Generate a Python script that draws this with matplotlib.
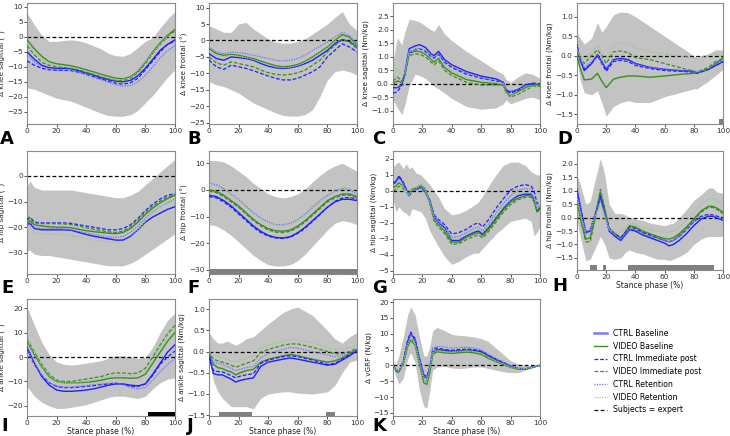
import matplotlib
matplotlib.use('Agg')
import matplotlib.pyplot as plt

# ---- data ----
# phase grid shared by several panels
grid5 = [0, 5, 10, 15, 20, 25, 30, 35, 40, 45, 50, 55, 60, 65, 70, 75, 80, 85, 90, 95, 100]

# A: knee sagittal angle
a_hi = [8, 4, 0.5, -1.5, -1.5, -1.2, -1.0, -1.3, -2, -3, -4, -5.5, -6.3, -6.5, -5.5, -3.5, -1.5, -0.3, 3, 6, 8.5]
a_lo = [-17, -17.5, -18.5, -19.5, -20.5, -21, -21.5, -22.5, -23.5, -24.5, -25.5, -26.3, -26.5, -26.5, -26, -24.5, -22, -19.5, -16.5, -13.5, -11]
a_ctrl_base = [-5, -7.5, -9.5, -10.3, -10.5, -10.5, -10.7, -11.3, -12, -12.8, -13.6, -14.3, -14.8, -15, -14.5, -13, -10.5, -7.5, -4.5, -2.5, -1]
a_video_base = [-1, -4, -6.5, -8.3, -9, -9.3, -9.7, -10.3, -11, -11.7, -12.5, -13.2, -13.8, -14, -13.3, -11.5, -8.5, -5, -2, 0.5, 2.5]
a_ctrl_imm = [-8, -9.5, -10.5, -11, -11.2, -11.2, -11.3, -11.8, -12.5, -13.3, -14, -14.8, -15.5, -15.8, -15.3, -13.8, -11, -8, -5, -2.5, -1.5]
a_video_imm = [-3, -6, -8.5, -9.5, -10, -10.2, -10.5, -11, -11.8, -12.5, -13.3, -14, -14.5, -14.5, -13.8, -12, -9, -5.5, -2.5, 0, 2]
a_ctrl_ret = [-6, -8.5, -10, -10.8, -11, -11, -11.2, -11.8, -12.6, -13.5, -14.3, -15.2, -16, -16.5, -16.2, -15, -12.8, -10, -7, -4.5, -3]
a_video_ret = [-2, -5, -7.5, -8.8, -9.5, -9.8, -10.2, -10.7, -11.4, -12.1, -12.9, -13.6, -14.2, -14.3, -13.6, -11.8, -8.8, -5.3, -2.3, 0.2, 1.5]

# B: knee frontal angle
b_hi = [4.5, 3.5, 2.5, 2.5, 5, 5.5, 3.5, 2, 0.5, -0.5, -0.8, -0.8, -0.3, 0.5, 2, 3.5, 5, 7, 8.8, 5, 3]
b_lo = [-12.5, -13.5, -14, -15, -16, -17.5, -19, -20, -21, -22, -22.8, -23, -23, -22.5, -21, -17, -12, -9.5, -9, -9.5, -10.5]
b_ctrl_base = [-4, -5.5, -6, -5, -5.2, -5.5, -6, -7, -7.8, -8.3, -8.5, -8.3, -7.8, -7, -6, -4.5, -3, -1, 0.3, -0.3, -2]
b_video_base = [-2.5, -4, -4.5, -4.2, -4.5, -5, -5.5, -6.3, -7, -7.7, -8, -7.8, -7.3, -6.3, -5, -3.5, -2, 0, 1.8, 1, -1.5]
b_ctrl_imm = [-6, -8, -8.8, -7.5, -8, -8.5, -9.2, -10, -10.8, -11.5, -12, -12, -11.5, -10.5, -9.5, -8, -5, -3, -1, -2, -3.5]
b_video_imm = [-5, -6.8, -7.5, -6.5, -7, -7.5, -8, -9, -9.8, -10.3, -10.5, -10.3, -9.8, -9, -7.5, -6, -3.5, -1.5, 0.2, -0.5, -2.5]
b_ctrl_ret = [-2, -3.5, -4, -3.5, -3.7, -4, -4.5, -5, -5.5, -6, -6.2, -6, -5.5, -4.5, -3, -1.8, -0.5, 1, 2.5, 1.5, -1]
b_video_ret = [-3, -4.5, -5, -4.5, -4.8, -5.2, -5.8, -6.6, -7.3, -8, -8.3, -8.1, -7.6, -6.6, -5.3, -3.8, -2.3, -0.3, 1.2, 0.5, -2]

# C: knee sagittal moment
c_x = [0, 3, 6, 8, 11, 15, 18, 22, 26, 28, 31, 35, 40, 50, 60, 70, 75, 77, 80, 85, 90, 95, 100]
c_hi = [0.85, 1.7, 1.45, 1.9, 2.4, 2.35, 2.3, 2.15, 2.0, 1.95, 2.2, 1.85, 1.6, 1.2, 0.85, 0.5, 0.35, 0.15, 0.05, 0.25, 0.4, 0.35, 0.2]
c_lo = [-0.6, -0.9, -1.15, -0.8, -0.1, 0.35, 0.3, 0.2, 0.0, -0.1, -0.2, -0.35, -0.55, -0.85, -0.95, -0.9, -0.75, -0.6, -0.75, -0.65, -0.55, -0.5, -0.6]
c_ctrl_base = [-0.15, -0.15, -0.05, 0.4, 1.3, 1.4, 1.45, 1.35, 1.1, 1.05, 1.2, 0.9, 0.7, 0.45, 0.28, 0.18, 0.05, -0.25, -0.3, -0.22, -0.05, 0.0, -0.05]
c_video_base = [0.0, 0.1, 0.05, 0.3, 1.15, 1.2, 1.2, 1.1, 0.9, 0.8, 0.95, 0.6, 0.4, 0.15, 0.05, 0.0, -0.05, -0.3, -0.45, -0.3, -0.15, -0.05, -0.05]
c_ctrl_imm = [-0.35, -0.3, -0.05, 0.35, 1.15, 1.25, 1.3, 1.2, 1.0, 0.95, 1.1, 0.8, 0.6, 0.35, 0.2, 0.1, 0.05, -0.25, -0.35, -0.25, -0.05, 0.02, 0.0]
c_video_imm = [0.1, 0.25, 0.1, 0.3, 1.05, 1.1, 1.1, 1.0, 0.8, 0.7, 0.85, 0.5, 0.3, 0.05, -0.05, -0.05, -0.05, -0.35, -0.5, -0.4, -0.25, -0.1, -0.1]
c_ctrl_ret = [-0.2, -0.15, 0.0, 0.35, 1.2, 1.3, 1.32, 1.25, 1.05, 0.98, 1.1, 0.85, 0.65, 0.4, 0.22, 0.12, 0.05, -0.2, -0.3, -0.2, -0.08, -0.05, -0.05]
c_video_ret = [0.4, 0.55, 0.3, 0.4, 1.2, 1.25, 1.25, 1.15, 0.95, 0.85, 1.0, 0.7, 0.5, 0.25, 0.1, 0.05, 0.0, -0.35, -0.45, -0.35, -0.2, -0.1, -0.2]

# D: knee frontal moment
d_x = [0, 2, 5, 10, 14, 17, 20, 25, 30, 35, 40, 50, 60, 70, 80, 82, 90, 95, 100]
d_hi = [0.6, 0.45, 0.3, 0.45, 0.85, 0.6, 0.75, 1.05, 1.12, 1.1, 1.0, 0.75, 0.5, 0.25, 0.0, -0.05, 0.05, 0.15, 0.15]
d_lo = [0.0, -0.6, -0.95, -1.0, -0.9, -1.2, -1.55, -1.3, -1.2, -1.15, -1.2, -1.2, -1.05, -0.95, -0.85, -0.85, -0.65, -0.5, -0.35]
d_ctrl_base = [0.28, -0.1, -0.38, -0.2, 0.03, -0.15, -0.35, -0.1, -0.07, -0.1, -0.2, -0.3, -0.35, -0.38, -0.4, -0.45, -0.35, -0.25, -0.15]
d_video_base = [0.0, -0.3, -0.62, -0.6, -0.45, -0.65, -0.82, -0.6, -0.55, -0.52, -0.52, -0.55, -0.52, -0.48, -0.45, -0.45, -0.35, -0.2, -0.05]
d_ctrl_imm = [0.25, -0.1, -0.35, -0.2, 0.0, -0.2, -0.4, -0.15, -0.12, -0.15, -0.25, -0.33, -0.38, -0.4, -0.42, -0.45, -0.35, -0.25, -0.15]
d_video_imm = [0.1, -0.05, -0.2, 0.0, 0.15, 0.0, -0.2, 0.1, 0.12, 0.08, -0.05, -0.1, -0.2, -0.3, -0.4, -0.42, -0.3, -0.15, -0.1]
d_ctrl_ret = [0.25, -0.08, -0.3, -0.15, 0.02, -0.18, -0.3, -0.12, -0.1, -0.12, -0.22, -0.3, -0.35, -0.38, -0.4, -0.43, -0.33, -0.22, -0.12]
d_video_ret = [0.15, 0.0, -0.1, 0.1, 0.25, 0.1, -0.1, 0.25, 0.33, 0.3, 0.2, 0.1, 0.05, 0.0, -0.05, -0.05, 0.0, 0.05, 0.0]
d_sig = [(97, 100)]

# E: hip sagittal angle
e_x = [0, 2, 5, 10, 15, 20, 25, 30, 35, 40, 45, 50, 55, 60, 65, 70, 75, 80, 85, 90, 95, 100]
e_hi = [-4, -2, -4.5, -5.5, -5.5, -5.5, -5.5, -5.5, -6, -6.5, -7, -7.5, -8, -8.5, -8.5, -7.5, -6, -3.5, -1, 1.5, 4, 6.5]
e_lo = [-29, -29, -30.5, -31, -31, -31.5, -32, -32.5, -33, -33.5, -34, -34.5, -35, -35, -35, -34, -32.5, -30.5, -28.5, -26.5, -24.5, -22.5]
e_ctrl_base = [-19, -18.5, -20.5, -21, -21, -21, -21, -21.2, -22, -22.8, -23.5, -24, -24.5, -25, -25, -23.5, -21, -18, -16, -14.5, -13, -12]
e_video_base = [-18.5, -17.5, -19, -19.5, -19.8, -20, -20, -20.2, -20.8, -21.3, -21.7, -22, -22.3, -22.5, -22, -20.5, -18, -15, -12.5, -10.5, -8.8, -7.5]
e_ctrl_imm = [-17, -16, -18, -18.3, -18.3, -18.3, -18.3, -18.5, -19, -19.5, -20, -20.5, -21, -21, -20.5, -19, -16.5, -13.5, -11, -9, -7.5, -7]
e_video_imm = [-17.5, -16.5, -18.3, -18.6, -18.6, -18.6, -18.7, -19, -19.5, -20.2, -20.8, -21.3, -21.8, -22, -21.5, -19.8, -17.2, -14.2, -11.8, -9.8, -8.3, -7.3]
e_ctrl_ret = [-19, -18, -20, -20.5, -20.5, -20.5, -20.6, -21, -21.6, -22.2, -22.8, -23.3, -23.8, -24, -23.5, -22, -19.5, -16.5, -14, -12, -10.5, -9]
e_video_ret = [-20.5, -20, -22, -22.5, -22.5, -22.7, -23, -23.2, -23.8, -24.5, -25, -25.3, -25.7, -26, -25.5, -24, -21, -17.5, -14.5, -12, -10, -8.5]

# F: hip frontal angle
f_hi = [11, 11, 10.5, 9, 7, 5, 2.5, 0.5, -1.5, -2.5, -3, -2.5, -1.5, 0.5, 3, 5.5, 7.5, 9, 10, 8.5, 7]
f_lo = [-13, -13.5, -15, -17, -19.5, -22, -24.5, -26.5, -28, -28.5, -28.5, -28, -26.5, -24, -21, -18, -15, -12.5, -11.5, -12, -13]
f_ctrl_base = [-2, -2.5, -4, -6, -8.5, -11, -13.5, -15.5, -17, -17.8, -18, -17.5, -16, -14, -11.5, -9, -6.5, -4.5, -3.5, -3.5, -4]
f_video_base = [0, -0.5, -2, -4, -6, -8.5, -11, -13, -14.5, -15.3, -15.5, -15, -13.5, -11.5, -9, -6.5, -4, -2.5, -1.5, -1.5, -2.5]
f_ctrl_imm = [-2.5, -3, -4.5, -6.5, -9, -11.5, -14, -16, -17.3, -18, -18.2, -17.7, -16.3, -14.3, -11.8, -9.2, -6.5, -4.3, -3, -2.8, -3.5]
f_video_imm = [-0.5, -1, -2.5, -4.5, -6.5, -9, -11.5, -13.5, -15, -15.8, -16, -15.5, -14, -12, -9.5, -7, -4.5, -3, -2, -2, -3]
f_ctrl_ret = [2.5, 2, 0.5, -1.5, -3.5, -6, -8.5, -10.5, -12, -13, -13, -12.5, -11, -9, -6.5, -4, -2, -0.5, 0.5, 0, -1.5]
f_video_ret = [2, 1.5, 0, -2, -4, -6.5, -9, -11, -12.5, -13.3, -13.5, -13, -11.5, -9.5, -7, -4.5, -2.5, -0.8, 1, 0.5, -1]
f_sig = [(0, 100)]

# G: hip sagittal moment
g_x = [0, 2, 4, 7, 9, 11, 13, 16, 19, 22, 25, 28, 31, 35, 40, 45, 50, 55, 58, 61, 65, 70, 75, 80, 85, 90, 94, 96, 98, 100]
g_hi = [1.5, 1.7, 1.8, 1.4, 1.7, 1.4, 1.5, 1.1, 1.0, 0.7, 0.4, 0.0, -0.4, -1.1, -1.5, -1.4, -1.2, -0.9, -0.7, -0.3, 0.3, 1.0, 1.6, 1.8, 1.8, 1.6, 1.2, 1.1, 1.0, 1.0]
g_lo = [-0.5, -1.3, -1.0, -1.3, -1.4, -1.6, -1.1, -1.2, -1.3, -1.7, -2.5, -3.0, -3.5, -4.1, -4.6, -4.4, -4.1, -3.9, -3.9, -3.6, -3.2, -2.7, -2.3, -1.9, -1.8, -1.7, -1.9, -2.8, -2.6, -2.2]
g_ctrl_base = [0.5, 0.6, 0.9, 0.5, 0.1, -0.3, 0.05, 0.1, 0.25, -0.05, -0.6, -1.6, -2.0, -2.3, -3.1, -3.1, -2.8, -2.6, -2.5, -2.7, -2.3, -1.7, -1.1, -0.6, -0.3, -0.2, -0.2, -0.5, -1.3, -1.1]
g_video_base = [0.2, 0.3, 0.5, 0.3, 0.05, -0.2, 0.1, 0.2, 0.35, 0.1, -0.7, -1.8, -2.1, -2.5, -3.2, -3.2, -2.9, -2.7, -2.6, -2.8, -2.4, -1.8, -1.2, -0.7, -0.45, -0.3, -0.3, -0.6, -1.2, -1.0]
g_ctrl_imm = [0.45, 0.55, 0.95, 0.55, 0.1, -0.3, 0.05, 0.1, 0.2, -0.1, -0.6, -1.5, -1.8, -2.1, -2.7, -2.6, -2.4, -2.1, -2.0, -2.25, -1.8, -1.1, -0.5, 0.05, 0.3, 0.4, 0.3, 0.0, -0.8, -0.7]
g_video_imm = [0.0, 0.1, 0.3, 0.15, -0.05, -0.3, 0.0, 0.15, 0.3, 0.05, -0.8, -1.9, -2.25, -2.65, -3.35, -3.3, -3.05, -2.85, -2.75, -2.95, -2.55, -1.95, -1.35, -0.85, -0.55, -0.4, -0.4, -0.7, -1.3, -1.2]
g_ctrl_ret = [0.4, 0.5, 0.8, 0.45, 0.05, -0.3, 0.05, 0.1, 0.2, -0.05, -0.6, -1.55, -1.9, -2.2, -2.9, -2.85, -2.6, -2.35, -2.25, -2.5, -2.05, -1.4, -0.8, -0.3, 0.05, 0.15, 0.1, -0.2, -1.0, -0.9]
g_video_ret = [0.1, 0.2, 0.4, 0.25, 0.0, -0.25, 0.05, 0.2, 0.3, 0.05, -0.7, -1.7, -2.05, -2.4, -3.0, -3.0, -2.75, -2.5, -2.4, -2.6, -2.2, -1.6, -1.0, -0.55, -0.2, -0.1, -0.1, -0.4, -1.1, -0.9]

# H: hip frontal moment
h_x = [0, 3, 6, 9, 12, 16, 19, 22, 26, 30, 33, 36, 40, 45, 50, 55, 60, 63, 66, 70, 75, 80, 85, 90, 93, 96, 100]
h_hi = [1.6, 1.1, 0.5, 0.6, 1.3, 2.2, 1.6, 0.5, 0.15, 0.15, 0.1, 0.0, -0.05, -0.1, -0.2, -0.25, -0.3, -0.25, -0.2, 0.0, 0.3, 0.65, 0.85, 1.1, 1.1, 0.95, 0.9]
h_lo = [-0.1, -0.9, -1.6, -1.55, -1.2, -0.7, -1.0, -1.5, -1.55, -1.5, -1.3, -1.2, -1.3, -1.35, -1.45, -1.55, -1.55, -1.6, -1.55, -1.45, -1.3, -1.0, -0.8, -0.7, -0.7, -0.7, -0.7]
h_ctrl_base = [1.05, 0.2, -0.55, -0.5, 0.0, 0.75, 0.2, -0.5, -0.7, -0.85, -0.65, -0.45, -0.5, -0.65, -0.75, -0.85, -0.95, -1.05, -1.0, -0.85, -0.6, -0.3, -0.05, 0.05, 0.05, -0.02, -0.1]
h_video_base = [0.65, -0.2, -0.8, -0.75, -0.1, 0.95, 0.3, -0.4, -0.6, -0.75, -0.55, -0.3, -0.35, -0.5, -0.6, -0.7, -0.78, -0.8, -0.75, -0.6, -0.35, -0.05, 0.25, 0.42, 0.42, 0.35, 0.2]
h_ctrl_imm = [1.0, 0.2, -0.5, -0.45, 0.05, 0.8, 0.25, -0.4, -0.6, -0.75, -0.55, -0.35, -0.4, -0.55, -0.65, -0.75, -0.85, -0.9, -0.85, -0.7, -0.45, -0.15, 0.05, 0.12, 0.1, 0.05, 0.0]
h_video_imm = [0.75, -0.1, -0.9, -0.9, -0.15, 1.05, 0.35, -0.45, -0.65, -0.8, -0.6, -0.4, -0.45, -0.6, -0.7, -0.75, -0.85, -0.9, -0.85, -0.65, -0.4, -0.1, 0.2, 0.38, 0.38, 0.3, 0.15]
h_ctrl_ret = [0.95, 0.15, -0.6, -0.55, -0.05, 0.65, 0.15, -0.45, -0.65, -0.8, -0.6, -0.4, -0.45, -0.6, -0.7, -0.8, -0.85, -0.9, -0.85, -0.7, -0.45, -0.15, 0.0, 0.08, 0.08, 0.02, -0.05]
h_video_ret = [0.7, -0.05, -0.5, -0.45, 0.0, 0.45, 0.0, -0.45, -0.55, -0.55, -0.4, -0.2, -0.25, -0.35, -0.45, -0.5, -0.55, -0.55, -0.5, -0.35, -0.1, 0.2, 0.5, 0.7, 0.72, 0.6, 0.45]
h_sig = [(9, 14), (18, 20), (35, 94)]

# I: ankle sagittal angle
i_hi = [20.5, 13, 6, 1, -2, -3, -3.3, -3, -2.5, -2, -1.5, -0.5, 0.5, 0.5, 0, -0.5, 0, 4, 10, 15, 18]
i_lo = [-12, -16, -18.5, -20, -21, -21, -20.5, -20, -19.5, -18.5, -17.5, -16.5, -16, -16, -16.5, -17, -16, -13, -10.5, -9, -8.5]
i_ctrl_base = [4, -2.5, -8, -11.5, -13.5, -14, -14, -13.8, -13.5, -13, -12.3, -11.5, -11, -11, -11.5, -11.8, -11, -7, -2.5, 2, 5]
i_video_base = [6.5, 1, -4, -8, -10, -10.5, -10.5, -10.5, -10.3, -10, -9.5, -8.8, -8.5, -8.5, -8.7, -8.5, -7, -2.5, 2, 6.5, 10]
i_ctrl_imm = [3, -3, -7.5, -10.5, -12, -12.5, -12.5, -12.3, -12, -11.7, -11.3, -11, -10.8, -11.2, -12, -12, -11, -7.5, -3, 0, 2.5]
i_video_imm = [7.5, 2, -3, -7, -9.5, -10, -10, -9.5, -9, -8.5, -8, -7, -6.5, -6.5, -6.8, -6.5, -4.5, 0, 5, 9.5, 13]
i_ctrl_ret = [3.5, -2.5, -7.5, -10.5, -12, -12.3, -12.3, -12, -11.7, -11.3, -11, -10.7, -10.5, -11.2, -12.5, -13, -12.5, -9.5, -6, -3, -0.5]
i_video_ret = [7, 1.5, -3.5, -7.5, -10, -10.5, -10.5, -10.3, -10, -9.5, -8.8, -8, -7.5, -7.5, -7.5, -7.2, -5.5, -1, 4, 8.5, 12]
i_sig = [(82, 100)]

# J: ankle sagittal moment
j_x = [0, 1, 3, 6, 9, 12, 15, 18, 21, 25, 30, 35, 40, 50, 55, 60, 70, 80, 85, 90, 95, 100]
j_hi = [0.45, 0.4, 0.3, 0.2, 0.2, 0.25, 0.2, 0.15, 0.2, 0.3, 0.35, 0.5, 0.65, 0.92, 1.0, 1.05, 0.85, 0.5, 0.3, 0.2, 0.35, 0.45]
j_lo = [0.0, -0.3, -0.7, -0.95, -1.1, -1.2, -1.3, -1.3, -1.3, -1.3, -1.35, -1.1, -1.0, -0.95, -0.95, -0.98, -1.0, -0.95, -0.8, -0.5, -0.25, -0.2]
j_ctrl_base = [0.0, -0.25, -0.52, -0.55, -0.55, -0.6, -0.65, -0.72, -0.68, -0.65, -0.62, -0.35, -0.25, -0.18, -0.15, -0.18, -0.25, -0.32, -0.3, -0.2, -0.1, 0.02]
j_video_base = [0.05, -0.15, -0.3, -0.38, -0.4, -0.45, -0.48, -0.55, -0.5, -0.45, -0.42, -0.25, -0.18, -0.1, -0.07, -0.1, -0.18, -0.25, -0.22, -0.15, -0.05, 0.05]
j_ctrl_imm = [0.0, -0.22, -0.45, -0.47, -0.48, -0.52, -0.57, -0.62, -0.58, -0.55, -0.52, -0.28, -0.2, -0.12, -0.1, -0.12, -0.2, -0.3, -0.28, -0.18, -0.08, 0.03]
j_video_imm = [0.02, -0.08, -0.18, -0.22, -0.25, -0.28, -0.32, -0.37, -0.33, -0.28, -0.22, -0.02, 0.05, 0.15, 0.18, 0.18, 0.1, 0.0, -0.05, -0.05, 0.0, 0.08]
j_ctrl_ret = [0.02, -0.12, -0.25, -0.28, -0.3, -0.35, -0.4, -0.45, -0.42, -0.38, -0.35, -0.15, -0.05, 0.05, 0.1, 0.08, 0.0, -0.08, -0.12, -0.1, -0.03, 0.05]
j_video_ret = [0.05, -0.05, -0.1, -0.12, -0.15, -0.18, -0.22, -0.25, -0.2, -0.15, -0.1, 0.08, 0.15, 0.25, 0.28, 0.27, 0.2, 0.1, 0.05, 0.05, 0.1, 0.15]
j_sig = [(7, 29), (79, 85)]

# K: vertical ground reaction force
k_x = [0, 2, 4, 7, 10, 12, 15, 18, 21, 23, 25, 27, 30, 35, 40, 45, 50, 55, 60, 65, 70, 75, 80, 85, 90, 95, 100]
k_hi = [0.2, 0.5, 3, 9, 16, 18.5, 16, 9, 3, 3, 6, 11, 12, 11, 9.8, 9.5, 9.3, 9.0, 8.5, 7.5, 5.5, 3.5, 1.5, 0.5, 0.0, 0.0, 0.0]
k_lo = [-0.2, -3.5, -6, -4, 2, 4, 1, -8, -13, -13.5, -8, -1.5, -0.5, -0.3, -0.8, -1.0, -0.8, -0.5, -0.5, -1.0, -1.5, -2.0, -2.3, -2.3, -1.5, -0.8, 0.0]
k_ctrl_base = [0, -1.5, -2, 1, 7.5, 10, 8, 2, -3.5, -4, -1, 4, 5, 4.8, 4.5, 4.6, 4.8, 4.7, 4.3, 3, 1.8, 0.8, -0.3, -1.0, -1.2, -0.5, 0]
k_video_base = [0, -1.3, -1.8, 0.5, 6, 8, 6.5, 0.5, -5.5, -6, -2.5, 3.5, 4.3, 4, 3.8, 4, 4.2, 4, 3.5, 2.2, 1.2, 0.3, -0.6, -1.2, -1.2, -0.6, 0]
k_ctrl_imm = [0, -1.8, -2.2, 1.3, 8, 10.5, 8.5, 2.3, -3, -3.5, -0.5, 5, 5.5, 5, 4.8, 5, 5.2, 5, 4.5, 3.2, 2, 1, -0.2, -0.9, -1.1, -0.5, 0]
k_video_imm = [0, -1.5, -2, 0.8, 6.5, 8.5, 7, 1, -4.5, -5, -1.5, 4, 4.8, 4.5, 4.3, 4.5, 4.7, 4.5, 4, 2.7, 1.5, 0.5, -0.5, -1.1, -1.2, -0.6, 0]
k_ctrl_ret = [0, -1.5, -1.8, 1.2, 7.5, 9.8, 7.8, 2, -3.5, -4, -0.5, 5.5, 6, 5.8, 5.5, 5.6, 5.8, 5.5, 5, 3.5, 2.2, 1, 0, -0.8, -1.0, -0.5, 0]
k_video_ret = [0, -1.4, -1.9, 0.8, 6.5, 8.5, 6.8, 1, -4.5, -5, -1.5, 4, 4.7, 4.3, 4.2, 4.4, 4.6, 4.4, 3.9, 2.6, 1.4, 0.5, -0.5, -1.0, -1.1, -0.5, 0]

labels = ['CTRL Baseline', 'VIDEO Baseline', 'CTRL Immediate post',
          'VIDEO Immediate post', 'CTRL Retention', 'VIDEO Retention']

# ---- styles ----
BLUE = '#1f1fff'
GREEN = '#3c8c22'
styles = [
    dict(color=BLUE, ls='-', lw=1.0),
    dict(color=GREEN, ls='-', lw=1.0),
    dict(color=BLUE, ls=(0, (3, 1.5)), lw=0.9),
    dict(color=GREEN, ls=(0, (3, 1.5)), lw=0.9),
    dict(color='#7070ff', ls=(0, (1, 1)), lw=0.9),
    dict(color='#98c88a', ls=(0, (1, 1)), lw=0.9),
]

W, H = 730, 436
fig = plt.figure(figsize=(W / 100, H / 100), dpi=100)

col_l = [27, 209, 393, 577]
col_r = [175, 357, 540, 723]
row_t = [3, 151, 299]
row_b = [124, 274, 416]


def make_ax(r, c, bottom=None):
    b = row_b[r] if bottom is None else bottom
    return fig.add_axes([col_l[c] / W, 1 - b / H,
                         (col_r[c] - col_l[c]) / W, (b - row_t[r]) / H])


def draw(ax, x, hi, lo, curves, ylim, yticks, ylabel, xlabel=False,
         sig=None, sig_color='#808080', sig_h=0.04):
    ax.fill_between(x, lo, hi, color='#c3c3c3', lw=0)
    ax.axhline(0, color='black', ls=(0, (3, 2)), lw=0.9, zorder=2)
    for y, st in zip(curves, styles):
        ax.plot(x, y, zorder=3, **st)
    if sig:
        for s, e in sig:
            ax.axvspan(s, e, ymin=0, ymax=sig_h, color=sig_color, lw=0, zorder=4)
    ax.set_xlim(0, 100)
    ax.set_ylim(*ylim)
    ax.set_xticks([0, 20, 40, 60, 80, 100])
    ax.set_yticks(yticks)
    ax.tick_params(labelsize=5.3, length=2, width=0.6, pad=1,
                   colors='#333333')
    for sp in ax.spines.values():
        sp.set_color('#8a8a8a')
        sp.set_linewidth(0.8)
    ax.set_ylabel(ylabel, fontsize=5.2, labelpad=1, color='#222222')
    if xlabel:
        ax.set_xlabel('Stance phase (%)', fontsize=5.5, labelpad=0.3, color='#222222')


ax = make_ax(0, 0)
draw(ax, grid5, a_hi, a_lo,
     [a_ctrl_base, a_video_base, a_ctrl_imm, a_video_imm, a_ctrl_ret, a_video_ret],
     (-29.1, 11.3), [10, 5, 0, -5, -10, -15, -20, -25], 'Δ knee sagittal (°)')

ax = make_ax(0, 1)
draw(ax, grid5, b_hi, b_lo,
     [b_ctrl_base, b_video_base, b_ctrl_imm, b_video_imm, b_ctrl_ret, b_video_ret],
     (-25.4, 11.4), [10, 5, 0, -5, -10, -15, -20, -25], 'Δ knee frontal (°)')

ax = make_ax(0, 2)
draw(ax, c_x, c_hi, c_lo,
     [c_ctrl_base, c_video_base, c_ctrl_imm, c_video_imm, c_ctrl_ret, c_video_ret],
     (-1.5, 3.0), [-1.0, -0.5, 0.0, 0.5, 1.0, 1.5, 2.0, 2.5], 'Δ knee sagittal (Nm/kg)')

ax = make_ax(0, 3)
draw(ax, d_x, d_hi, d_lo,
     [d_ctrl_base, d_video_base, d_ctrl_imm, d_video_imm, d_ctrl_ret, d_video_ret],
     (-1.75, 1.35), [-1.5, -1.0, -0.5, 0.0, 0.5, 1.0], 'Δ knee frontal (Nm/kg)',
     sig=d_sig, sig_h=0.045)

ax = make_ax(1, 0)
draw(ax, e_x, e_hi, e_lo,
     [e_ctrl_base, e_video_base, e_ctrl_imm, e_video_imm, e_ctrl_ret, e_video_ret],
     (-38.2, 9.7), [0, -10, -20, -30], 'Δ hip sagittal (°)')

ax = make_ax(1, 1)
draw(ax, grid5, f_hi, f_lo,
     [f_ctrl_base, f_video_base, f_ctrl_imm, f_video_imm, f_ctrl_ret, f_video_ret],
     (-31.5, 14.6), [10, 0, -10, -20, -30], 'Δ hip frontal (°)',
     sig=f_sig, sig_h=0.04)

ax = make_ax(1, 2)
draw(ax, g_x, g_hi, g_lo,
     [g_ctrl_base, g_video_base, g_ctrl_imm, g_video_imm, g_ctrl_ret, g_video_ret],
     (-5.2, 2.5), [2, 1, 0, -1, -2, -3, -4, -5], 'Δ hip sagittal (Nm/kg)')

ax = make_ax(1, 3, bottom=270)
draw(ax, h_x, h_hi, h_lo,
     [h_ctrl_base, h_video_base, h_ctrl_imm, h_video_imm, h_ctrl_ret, h_video_ret],
     (-1.95, 2.48), [-1.5, -1.0, -0.5, 0.0, 0.5, 1.0, 1.5, 2.0], 'Δ hip frontal (Nm/kg)',
     xlabel=True, sig=h_sig, sig_h=0.045)

ax = make_ax(2, 0)
draw(ax, grid5, i_hi, i_lo,
     [i_ctrl_base, i_video_base, i_ctrl_imm, i_video_imm, i_ctrl_ret, i_video_ret],
     (-24.1, 23.7), [20, 10, 0, -10, -20], 'Δ ankle sagittal (°)',
     xlabel=True, sig=i_sig, sig_color='black', sig_h=0.038)

ax = make_ax(2, 1)
draw(ax, j_x, j_hi, j_lo,
     [j_ctrl_base, j_video_base, j_ctrl_imm, j_video_imm, j_ctrl_ret, j_video_ret],
     (-1.52, 1.24), [-1.5, -1.0, -0.5, 0.0, 0.5, 1.0], 'Δ ankle sagittal (Nm/kg)',
     xlabel=True, sig=j_sig, sig_h=0.036)

ax = make_ax(2, 2)
draw(ax, k_x, k_hi, k_lo,
     [k_ctrl_base, k_video_base, k_ctrl_imm, k_video_imm, k_ctrl_ret, k_video_ret],
     (-16, 21), [20, 15, 10, 5, 0, -5, -10, -15], 'Δ vGRF (N/kg)',
     xlabel=True)

# panel letters (top rows by baseline, bottom row kept just inside the edge)
letters = [('A', 0, 144), ('B', 187, 144), ('C', 372, 144), ('D', 557, 144),
           ('E', 1, 293), ('F', 187, 293), ('G', 372, 293), ('H', 552, 291)]
for t, px, py in letters:
    fig.text(px / W, 1 - py / H, t, fontsize=13, fontweight='bold',
             ha='left', va='baseline')
for t, px in [('I', 1), ('J', 187), ('K', 372)]:
    fig.text(px / W, 1.5 / H, t, fontsize=13, fontweight='bold',
             ha='left', va='bottom')

# legend
handles = [plt.Line2D([], [], **st) for st in styles]
handles[0] = plt.Line2D([], [], color='#7a7aff', lw=1.8)
handles.append(plt.Line2D([], [], color='black', ls=(0, (3, 2)), lw=0.9))
fig.legend(handles, labels + ['Subjects = expert'], loc='upper left',
           bbox_to_anchor=(594 / W, 1 - 329 / H), frameon=False, fontsize=5.6,
           handlelength=1.7, handletextpad=0.7, labelspacing=0.48,
           borderaxespad=0, borderpad=0)

fig.savefig('out.png', dpi=100)
